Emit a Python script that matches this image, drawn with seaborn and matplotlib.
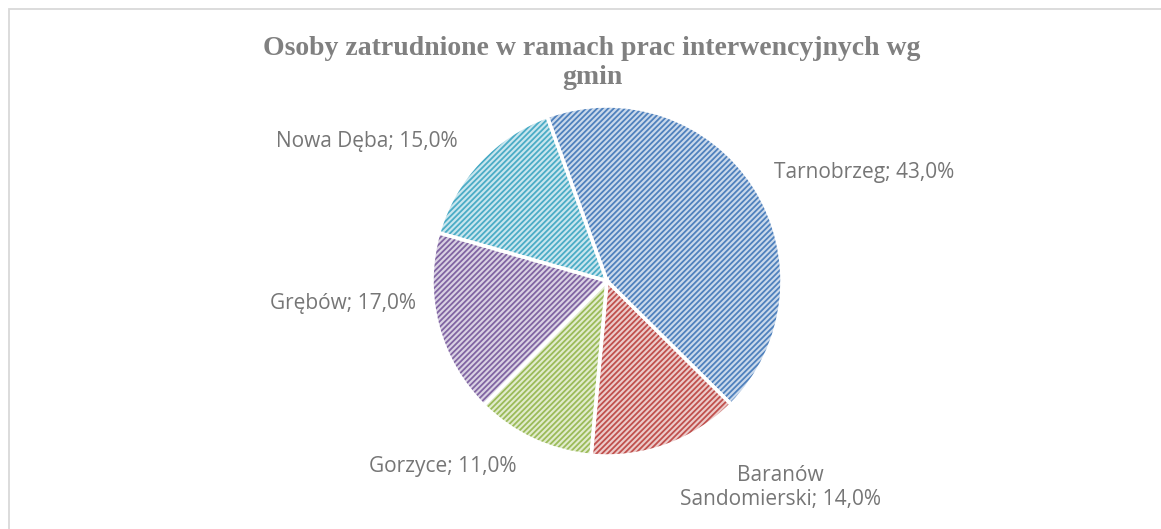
import textwrap
import matplotlib
matplotlib.use("Agg")
import matplotlib.pyplot as plt
import seaborn as sns
from matplotlib.colors import to_rgb
from matplotlib.patches import Rectangle

# Dane
gminy = ['Tarnobrzeg', 'Baranów Sandomierski', 'Gorzyce', 'Grębów', 'Nowa Dęba']
udzial = [43.0, 14.0, 11.0, 17.0, 15.0]
kolory = ['#4F81BD', '#C0504D', '#9BBB59', '#8064A2', '#4BACC6']
tytul = 'Osoby zatrudnione w ramach prac interwencyjnych wg\ngmin'

# Polozenie etykiet (w promieniach kola)
pozycje_etykiet = [(1.47, 0.62), (0.99, -1.18), (-0.94, -1.06), (-1.51, -0.13), (-1.37, 0.80)]

sns.set_theme(style='white')
plt.rcParams['font.family'] = ['Open Sans', 'DejaVu Sans']
plt.rcParams['hatch.linewidth'] = 1.3

W, H = 1161, 529
fig = plt.figure(figsize=(W / 100, H / 100), dpi=100)

# Ramka wykresu
fig.patches.append(Rectangle((9 / W, -0.05), 1.2, (H - 9) / H + 0.05,
                             transform=fig.transFigure, fill=False,
                             edgecolor='#d9d9d9', linewidth=1.3))

# Os kola
r = 175
cx, cy = 607, H - 281
ax = fig.add_axes([(cx - r) / W, (cy - r) / H, 2 * r / W, 2 * r / H])

jasne = [tuple(0.3 * c + 0.7 for c in to_rgb(k)) for k in kolory]
wedges, _ = ax.pie(udzial, colors=jasne, startangle=110, counterclock=False,
                   wedgeprops=dict(linewidth=0, hatch='//////'))
for w, k in zip(wedges, kolory):
    w.set_edgecolor(k)
    w.set_linewidth(0)

# Biale linie miedzy wycinkami
ax.pie(udzial, colors=['none'] * len(udzial), startangle=110, counterclock=False,
       wedgeprops=dict(edgecolor='white', linewidth=2.5))

for g, v, (x, y) in zip(gminy, udzial, pozycje_etykiet):
    etykieta = textwrap.fill(f'{g}; {v:.1f}%'.replace('.', ','), 20)
    ax.text(x, y, etykieta, ha='center', va='center', fontsize=15,
            color='#767676', clip_on=False)

ax.set_xlim(-1, 1)
ax.set_ylim(-1, 1)
ax.set_aspect('equal')
ax.axis('off')

# Tytul
fig.text(592 / W, (H - 63) / H, tytul, ha='center', va='center',
         fontsize=20, fontweight='bold', family='Liberation Serif',
         color='#808080', linespacing=1.2)

fig.savefig('out.png', dpi=100)
